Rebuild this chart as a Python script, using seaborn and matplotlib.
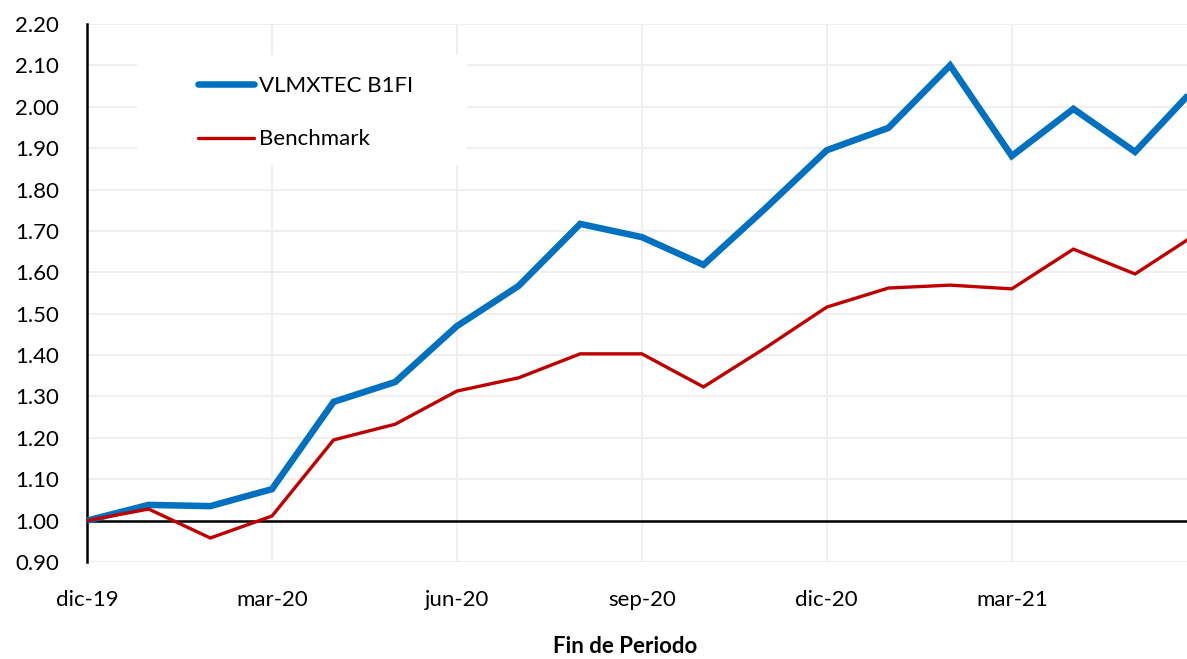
import matplotlib
matplotlib.use("Agg")
import matplotlib.pyplot as plt
import numpy as np
import pandas as pd
import seaborn as sns
from matplotlib.patches import Rectangle

# monthly data, dic-19 .. jun-21
months = ["dic-19", "ene-20", "feb-20", "mar-20", "abr-20", "may-20", "jun-20",
          "jul-20", "ago-20", "sep-20", "oct-20", "nov-20", "dic-20", "ene-21",
          "feb-21", "mar-21", "abr-21", "may-21", "jun-21"]
fund = [1.00, 1.038, 1.035, 1.076, 1.287, 1.335, 1.470, 1.567, 1.717, 1.685,
        1.618, 1.754, 1.895, 1.949, 2.100, 1.881, 1.995, 1.891, 2.050]
bench = [1.00, 1.028, 0.958, 1.011, 1.195, 1.233, 1.313, 1.345, 1.403, 1.403,
         1.323, 1.417, 1.516, 1.562, 1.569, 1.560, 1.656, 1.596, 1.693]
series_names = ["VLMXTEC B1FI", "Benchmark"]
tick_labels = ["dic-19", "mar-20", "jun-20", "sep-20", "dic-20", "mar-21"]

idx = np.arange(len(months))
df = pd.DataFrame({
    "x": np.concatenate([idx, idx]),
    "valor": fund + bench,
    "serie": [series_names[0]] * len(months) + [series_names[1]] * len(months),
})

sns.set_theme(style="white")
plt.rcParams['font.family'] = ['Lato', 'DejaVu Sans']
plt.rcParams['text.color'] = 'black'

fig = plt.figure(figsize=(11.87, 6.59), dpi=100)
ax = fig.add_axes([87 / 1187, 1 - 562 / 659, 1 - 87 / 1187, (562 - 24) / 659])

palette = {series_names[0]: "#0070C0", series_names[1]: "#C00000"}
sns.lineplot(data=df, x="x", y="valor", hue="serie", palette=palette,
             size="serie", sizes={series_names[0]: 4.7, series_names[1]: 2.4},
             ax=ax, legend=False, zorder=3)
for l in ax.lines:
    l.set_solid_joinstyle("miter")
    l.set_solid_capstyle("butt")

ax.axhline(1.0, color="black", lw=1.8, zorder=2.5)

ax.set_ylim(0.90, 2.20)
ax.set_yticks(np.round(np.arange(0.90, 2.21, 0.10), 2))
ax.yaxis.set_major_formatter(matplotlib.ticker.FormatStrFormatter("%.2f"))
ax.set_xlim(0, (1187 - 87) / 61.65)
ax.set_xticks([months.index(t) for t in tick_labels])
ax.set_xticklabels(tick_labels)
ax.tick_params(axis="both", labelsize=16, length=0, colors="black")
ax.tick_params(axis="x", pad=20)
ax.tick_params(axis="y", pad=20)

ax.grid(True, color="#efefef", lw=1.5)
ax.set_axisbelow(True)
for s in ["top", "right", "bottom"]:
    ax.spines[s].set_visible(False)
ax.spines["left"].set_color("black")
ax.spines["left"].set_linewidth(1.8)

ax.set_xlabel("Fin de Periodo", fontsize=16, fontweight="bold", color="black")
ax.xaxis.set_label_coords((625 - 87) / 1100, -(636 - 562) / 538)
ax.set_ylabel("")

# white legend background box
ax.add_patch(Rectangle((137 / 1187, 1 - 165 / 659), 330 / 1187, 110 / 659,
                       transform=fig.transFigure, facecolor="white",
                       edgecolor="none", zorder=2))
handles = [matplotlib.lines.Line2D([], [], color="#0070C0", lw=4.7),
           matplotlib.lines.Line2D([], [], color="#C00000", lw=2.4)]
fig.legend(handles, series_names, loc="upper left",
           bbox_to_anchor=(198 / 1187, 1 - 76 / 659), frameon=False,
           fontsize=16, handlelength=2.5, handletextpad=0.25,
           labelspacing=1.5, borderpad=0, borderaxespad=0)

fig.savefig("out.png", dpi=100)
